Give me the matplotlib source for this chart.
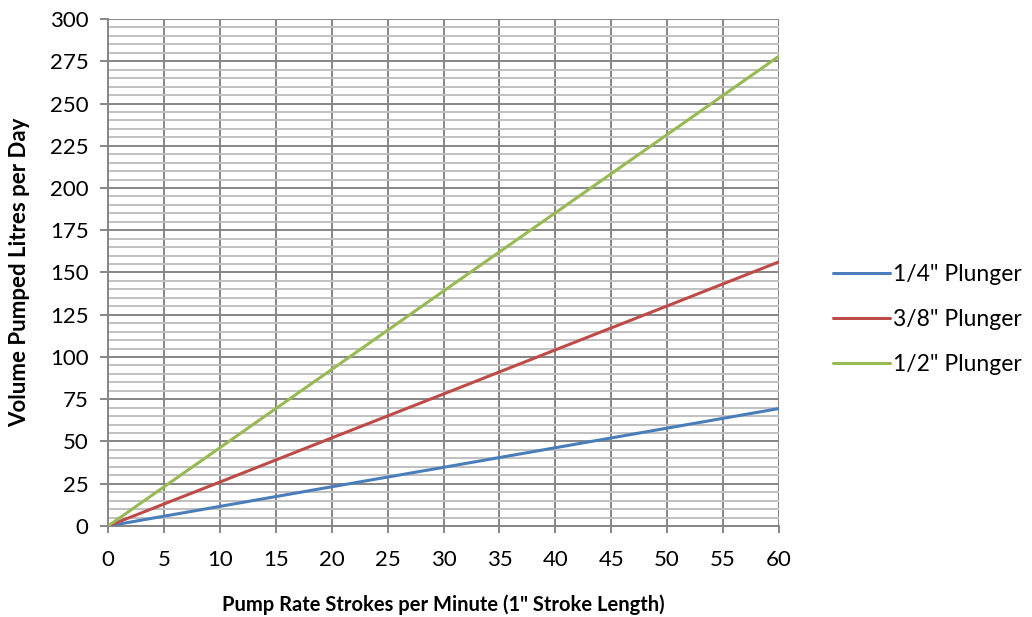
import numpy as np
import matplotlib.pyplot as plt
from matplotlib.ticker import MultipleLocator

plt.rcParams['font.family'] = ['Lato', 'DejaVu Sans']

# strokes per minute
spm = [0, 10, 20, 30, 40, 50, 60]
# litres per day
quarter = [0, 11.6, 23.2, 34.7, 46.3, 57.9, 69.5]
three_eighth = [0, 26.0, 52.1, 78.1, 104.2, 130.2, 156.3]
half = [0, 46.3, 92.6, 139.0, 185.3, 231.6, 278.0]

series_names = ['1/4" Plunger', '3/8" Plunger', '1/2" Plunger']
series_colors = ['#4a7ebb', '#be4b48', '#98b954']

fig = plt.figure(figsize=(10.32, 6.17), dpi=100)
ax = fig.add_axes([0.1047, 0.1475, 0.6501, 0.8217])

for vals, name, col in zip([quarter, three_eighth, half], series_names, series_colors):
    ax.plot(spm, vals, color=col, lw=2.2, label=name, solid_capstyle='round', zorder=3)

ax.set_xlim(0, 60)
ax.set_ylim(0, 300)
ax.xaxis.set_major_locator(MultipleLocator(5))
ax.yaxis.set_major_locator(MultipleLocator(25))
ax.yaxis.set_minor_locator(MultipleLocator(5))

ax.grid(which='major', color='#868686', lw=1.4)
ax.grid(which='minor', axis='y', color='#c0c0c0', lw=1.4)
ax.set_axisbelow(True)

for s in ['top', 'right']:
    ax.spines[s].set_visible(False)
for s in ['left', 'bottom']:
    ax.spines[s].set_color('#868686')
    ax.spines[s].set_linewidth(1.4)

ax.tick_params(which='major', width=1.4, color='#868686', labelsize=16)
ax.tick_params(which='minor', length=0)
ax.tick_params(axis='y', length=6, pad=8)
ax.tick_params(axis='x', length=5, pad=12)

ax.set_xlabel('Pump Rate Strokes per Minute (1" Stroke Length)', fontsize=14.5,
              fontweight='bold', labelpad=18)
ax.set_ylabel('Volume Pumped Litres per Day', fontsize=16, fontweight='bold', labelpad=14)

ax.legend(loc='center left', bbox_to_anchor=(1.08, 0.408), frameon=False, fontsize=16.5,
          borderaxespad=0, borderpad=0,
          handlelength=2.5, handletextpad=0.13, labelspacing=1.05)

fig.savefig('out.png', dpi=100)
